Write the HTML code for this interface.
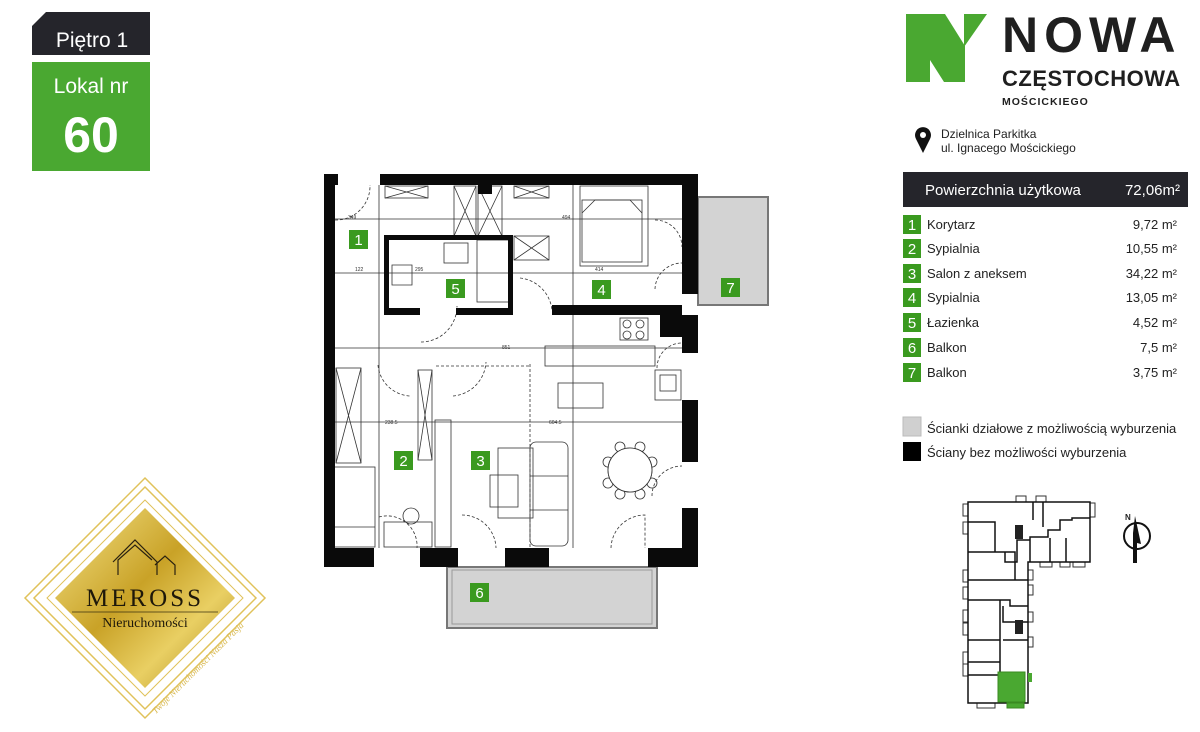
<!DOCTYPE html>
<html><head><meta charset="utf-8"><style>
html,body{margin:0;padding:0;background:#fff;width:1200px;height:732px;overflow:hidden}
svg{display:block}
text{font-family:"Liberation Sans",Arial,sans-serif}
text.serif{font-family:"Liberation Serif",serif}
</style></head><body>
<svg width="1200" height="732" viewBox="0 0 1200 732" xmlns="http://www.w3.org/2000/svg">
<defs>
<linearGradient id="gold" x1="0" y1="0" x2="1" y2="1">
<stop offset="0" stop-color="#f6e58a"/><stop offset="0.45" stop-color="#c9a227"/><stop offset="0.7" stop-color="#e9cf63"/><stop offset="1" stop-color="#a88418"/>
</linearGradient>
</defs>
<!-- Badge -->
<path d="M46 12 H150 V55 H32 V26 Z" fill="#25252b"/>
<text x="92" y="47" font-size="21" fill="#fff" text-anchor="middle">Piętro 1</text>
<rect x="32" y="62" width="118" height="109" fill="#4aa831"/>
<text x="91" y="93" font-size="21" fill="#fff" text-anchor="middle">Lokal nr</text>
<text x="91" y="152" font-size="50" font-weight="bold" fill="#fff" text-anchor="middle">60</text>

<!-- Logo -->
<path d="M906 14 H945 L965 46 V82 H944 L930 60 V82 H906 Z" fill="#4aa831"/>
<path d="M964 14 H987 L964 47 Z" fill="#4aa831"/>
<text x="1002" y="52" font-size="50" font-weight="bold" fill="#1f1f1f" letter-spacing="6">NOWA</text>
<text x="1002" y="86" font-size="22" font-weight="bold" fill="#1f1f1f" letter-spacing="0.5">CZĘSTOCHOWA</text>
<text x="1002" y="105" font-size="10.5" font-weight="bold" fill="#1f1f1f" letter-spacing="1">MOŚCICKIEGO</text>
<path d="M923 153 L916 139 A8 8 0 1 1 930 139 Z" fill="#111"/><circle cx="923" cy="135" r="3" fill="#fff"/>
<text x="941" y="138" font-size="12" fill="#222">Dzielnica Parkitka</text>
<text x="941" y="152" font-size="12" fill="#222">ul. Ignacego Mościckiego</text>

<!-- Table -->
<rect x="903" y="172" width="285" height="35" fill="#25252b"/>
<text x="925" y="195" font-size="15" fill="#fff">Powierzchnia użytkowa</text>
<text x="1180" y="195" font-size="15" fill="#fff" text-anchor="end">72,06m²</text>
<g font-size="13" fill="#222">
<g><rect x="903" y="215" width="18" height="19" fill="#3a9a1f"/><text x="912" y="230" fill="#fff" text-anchor="middle" font-size="15">1</text><text x="927" y="229">Korytarz</text><text x="1177" y="229" text-anchor="end">9,72 m²</text></g>
<g><rect x="903" y="239" width="18" height="19" fill="#3a9a1f"/><text x="912" y="254" fill="#fff" text-anchor="middle" font-size="15">2</text><text x="927" y="253">Sypialnia</text><text x="1177" y="253" text-anchor="end">10,55 m²</text></g>
<g><rect x="903" y="264" width="18" height="19" fill="#3a9a1f"/><text x="912" y="279" fill="#fff" text-anchor="middle" font-size="15">3</text><text x="927" y="278">Salon z aneksem</text><text x="1177" y="278" text-anchor="end">34,22 m²</text></g>
<g><rect x="903" y="288" width="18" height="19" fill="#3a9a1f"/><text x="912" y="303" fill="#fff" text-anchor="middle" font-size="15">4</text><text x="927" y="302">Sypialnia</text><text x="1177" y="302" text-anchor="end">13,05 m²</text></g>
<g><rect x="903" y="313" width="18" height="19" fill="#3a9a1f"/><text x="912" y="328" fill="#fff" text-anchor="middle" font-size="15">5</text><text x="927" y="327">Łazienka</text><text x="1177" y="327" text-anchor="end">4,52 m²</text></g>
<g><rect x="903" y="338" width="18" height="19" fill="#3a9a1f"/><text x="912" y="353" fill="#fff" text-anchor="middle" font-size="15">6</text><text x="927" y="352">Balkon</text><text x="1177" y="352" text-anchor="end">7,5 m²</text></g>
<g><rect x="903" y="363" width="18" height="19" fill="#3a9a1f"/><text x="912" y="378" fill="#fff" text-anchor="middle" font-size="15">7</text><text x="927" y="377">Balkon</text><text x="1177" y="377" text-anchor="end">3,75 m²</text></g>
<rect x="903" y="417" width="18" height="19" fill="#d0d0d0" stroke="#bbb"/><text x="927" y="433">Ścianki działowe z możliwością wyburzenia</text>
<rect x="903" y="442" width="18" height="19" fill="#000"/><text x="927" y="457">Ściany bez możliwości wyburzenia</text>
</g>

<!-- Floor plan -->
<g>
<rect x="447" y="567" width="210" height="61" fill="#d3d3d3" stroke="#777" stroke-width="2"/>
<rect x="452" y="570" width="200" height="54" fill="none" stroke="#999" stroke-width="1"/>
<rect x="698" y="197" width="70" height="108" fill="#d3d3d3" stroke="#777" stroke-width="2"/>
<g stroke="#333" stroke-width="0.8" fill="none">
<line x1="335" y1="219" x2="682" y2="219"/>
<line x1="335" y1="273" x2="682" y2="273"/>
<line x1="335" y1="348" x2="682" y2="348"/>
<line x1="335" y1="422" x2="682" y2="422"/>
<line x1="379" y1="185" x2="379" y2="548"/>
<line x1="573" y1="185" x2="573" y2="548"/>
<rect x="385" y="186" width="43" height="12"/><path d="M385 186 L428 198 M428 186 L385 198"/>
<rect x="454" y="186" width="22" height="50"/><path d="M454 186 L476 236 M476 186 L454 236"/>
<rect x="478" y="186" width="24" height="50"/><path d="M478 186 L502 236 M502 186 L478 236"/>
<rect x="514" y="186" width="35" height="12"/><path d="M514 186 L549 198 M549 186 L514 198"/>
<rect x="514" y="236" width="35" height="24"/><path d="M514 236 L549 260 M549 236 L514 260"/>
<rect x="580" y="186" width="68" height="80"/><rect x="582" y="200" width="60" height="62"/>
<path d="M582 213 L595 200 L630 200 L642 213"/>
<rect x="545" y="346" width="110" height="20"/>
<rect x="558" y="383" width="45" height="25"/>
<rect x="336" y="368" width="25" height="95"/><path d="M336 368 L361 463 M361 368 L336 463"/>
<rect x="334" y="467" width="41" height="80"/><line x1="334" y1="527" x2="375" y2="527"/>
<rect x="418" y="370" width="14" height="90"/><path d="M418 370 L432 460 M432 370 L418 460"/>
<rect x="435" y="420" width="16" height="127"/>
<rect x="498" y="448" width="35" height="70"/>
<rect x="530" y="442" width="38" height="104" rx="6"/><line x1="530" y1="476" x2="568" y2="476"/><line x1="530" y1="510" x2="568" y2="510"/>
<rect x="490" y="475" width="28" height="32"/>
<circle cx="630" cy="470" r="22"/>
<g stroke-width="0.8"><circle cx="608" cy="462" r="5"/><circle cx="608" cy="483" r="5"/><circle cx="652" cy="462" r="5"/><circle cx="652" cy="483" r="5"/><circle cx="620" cy="447" r="5"/><circle cx="640" cy="447" r="5"/><circle cx="620" cy="494" r="5"/><circle cx="640" cy="494" r="5"/></g>
<circle cx="630" cy="470" r="22" fill="#fff"/>
<rect x="384" y="522" width="48" height="25"/>
<circle cx="411" cy="516" r="8"/>
<rect x="655" y="370" width="26" height="30"/><rect x="660" y="375" width="16" height="16"/>
<rect x="620" y="318" width="28" height="22"/><circle cx="627" cy="324" r="4"/><circle cx="640" cy="324" r="4"/><circle cx="627" cy="335" r="4"/><circle cx="640" cy="335" r="4"/>
<rect x="444" y="243" width="24" height="20"/>
<rect x="477" y="240" width="32" height="62"/>
<path d="M392 265 h20 v20 h-20 z"/>
</g>
<g stroke="#333" stroke-width="0.8" fill="none" stroke-dasharray="3,2">
<path d="M335 220 A34 34 0 0 0 370 185"/>
<path d="M421 342 A36 36 0 0 0 457 306"/>
<path d="M520 278 A36 36 0 0 1 552 310"/>
<path d="M378 365 A34 34 0 0 0 410 396"/>
<path d="M453 396 A36 36 0 0 0 486 362"/>
<path d="M530 364 V548"/><path d="M436 366 H530"/>
<path d="M462 515 A34 34 0 0 1 496 548"/>
<path d="M611 548 A34 34 0 0 1 645 515 V548"/>
<path d="M652 496 A30 30 0 0 1 682 466"/>
<path d="M657 368 A25 25 0 0 1 682 343"/>
<path d="M655 220 A27 27 0 0 1 682 247"/><path d="M655 289 A27 27 0 0 1 682 263"/>
<path d="M379 517 A30 30 0 0 1 417 548"/>
</g>
<g fill="#0a0a0a">
<rect x="324" y="174" width="11" height="393"/>
<rect x="324" y="174" width="14" height="11"/>
<rect x="380" y="174" width="318" height="11"/>
<rect x="682" y="174" width="16" height="120"/>
<rect x="682" y="315" width="16" height="38"/>
<rect x="682" y="400" width="16" height="62"/>
<rect x="682" y="508" width="16" height="59"/>
<rect x="324" y="548" width="50" height="19"/>
<rect x="420" y="548" width="38" height="19"/>
<rect x="505" y="548" width="44" height="19"/>
<rect x="648" y="548" width="50" height="19"/>
<rect x="384" y="235" width="129" height="5"/>
<rect x="384" y="235" width="5" height="80"/>
<rect x="508" y="235" width="5" height="80"/>
<rect x="384" y="308" width="36" height="7"/>
<rect x="456" y="308" width="57" height="7"/>
<rect x="552" y="305" width="130" height="10"/>
<rect x="660" y="315" width="22" height="22"/>
<rect x="478" y="184" width="14" height="10"/>
</g>
<g font-size="5" fill="#333"><text x="348" y="219">349</text><text x="562" y="219">494</text><text x="355" y="271">122</text><text x="415" y="271">295</text><text x="595" y="271">414</text><text x="502" y="349">851</text><text x="385" y="424">238.5</text><text x="549" y="424">604.5</text></g>
<g font-size="15" fill="#fff" text-anchor="middle">
<rect x="349" y="230" width="19" height="19" fill="#3a9a1f"/><text x="358.5" y="245">1</text>
<rect x="394" y="451" width="19" height="19" fill="#3a9a1f"/><text x="403.5" y="466">2</text>
<rect x="471" y="451" width="19" height="19" fill="#3a9a1f"/><text x="480.5" y="466">3</text>
<rect x="592" y="280" width="19" height="19" fill="#3a9a1f"/><text x="601.5" y="295">4</text>
<rect x="446" y="279" width="19" height="19" fill="#3a9a1f"/><text x="455.5" y="294">5</text>
<rect x="470" y="583" width="19" height="19" fill="#3a9a1f"/><text x="479.5" y="598">6</text>
<rect x="721" y="278" width="19" height="19" fill="#3a9a1f"/><text x="730.5" y="293">7</text>
</g>
</g>

<!-- Meross logo -->
<g fill="none" stroke="#e0c25a" stroke-width="1.5">
<path d="M145 478 L265 598 L145 718 L25 598 Z"/>
<path d="M145 487 L256 598 L145 709 L34 598 Z"/>
<path d="M145 500 L243 598 L145 696 L47 598 Z" stroke-width="1"/>
</g>
<path d="M145 508 L235 598 L145 688 L55 598 Z" fill="url(#gold)"/>
<path d="M113 562 L135 540 L157 562 V575 M118 575 V560 L135 545 L152 560 M155 565 L165 556 L175 565 V575" fill="none" stroke="#2a2210" stroke-width="1.2"/>
<text class="serif" x="145" y="606" font-size="25" fill="#1e180a" text-anchor="middle" letter-spacing="3">MEROSS</text>
<line x1="72" y1="612" x2="218" y2="612" stroke="#3a300f" stroke-width="0.8"/>
<text class="serif" x="145" y="627" font-size="14" fill="#1e180a" text-anchor="middle">Nieruchomości</text>
<text class="serif" x="200" y="670" font-size="9" font-style="italic" fill="#d8b850" text-anchor="middle" transform="rotate(-45 200 670)">Twoje Nieruchomości Nasza Pasja</text>

<!-- site plan -->
<g fill="#fff" stroke="#333" stroke-width="1">
<rect x="963" y="504" width="5" height="12"/><rect x="963" y="522" width="5" height="12"/><rect x="963" y="570" width="5" height="12"/><rect x="963" y="587" width="5" height="12"/><rect x="963" y="610" width="5" height="12"/><rect x="963" y="623" width="5" height="12"/><rect x="963" y="652" width="5" height="12"/><rect x="963" y="664" width="5" height="12"/>
<rect x="1016" y="496" width="10" height="6"/><rect x="1036" y="496" width="10" height="6"/><rect x="1090" y="503" width="5" height="14"/>
<rect x="1040" y="562" width="12" height="5"/><rect x="1060" y="562" width="10" height="5"/><rect x="1073" y="562" width="12" height="5"/>
<rect x="1028" y="570" width="5" height="10"/><rect x="1028" y="585" width="5" height="10"/><rect x="1028" y="612" width="5" height="10"/><rect x="1028" y="637" width="5" height="10"/>
<rect x="977" y="703" width="18" height="5"/>
</g>
<g fill="none" stroke="#111" stroke-width="1.5">
<path d="M968 502 H1090 V562 H1028 V703 H968 Z"/>
<line x1="968" y1="580" x2="1028" y2="580"/>
<path d="M968 522 H995 V552 M968 552 H1015 V580 M1005 552 V562 H1017 V540 H1030 V537 H1048 V530 H1060 V520 H1072 V518 H1090 M1050 538 V562 M1030 537 V562 M1066 538 V562 M1043 502 V527 M1033 502 V520"/>
<path d="M968 600 H1010 V606 H1028 M1000 600 V680 M968 640 H1000 M968 662 H1000 M968 675 H998 M1003 606 V622 H1028 M1003 640 H1028"/>
</g>
<rect x="1015" y="525" width="8" height="14" fill="#222"/><rect x="1015" y="620" width="8" height="14" fill="#222"/>
<rect x="998" y="672" width="27" height="30" fill="#4aa831" stroke="#3a8a21"/>
<rect x="1028" y="673" width="4" height="9" fill="#4aa831"/><rect x="1007" y="703" width="17" height="5" fill="#4aa831" stroke="#3a8a21"/>
<circle cx="1137" cy="536" r="13" fill="none" stroke="#111" stroke-width="2"/>
<path d="M1135 516 L1141 544 L1137 543 V563 H1133 V533 Z" fill="#111"/>
<text x="1125" y="520" font-size="8" font-weight="bold" fill="#222">N</text>
</svg>
</body></html>
